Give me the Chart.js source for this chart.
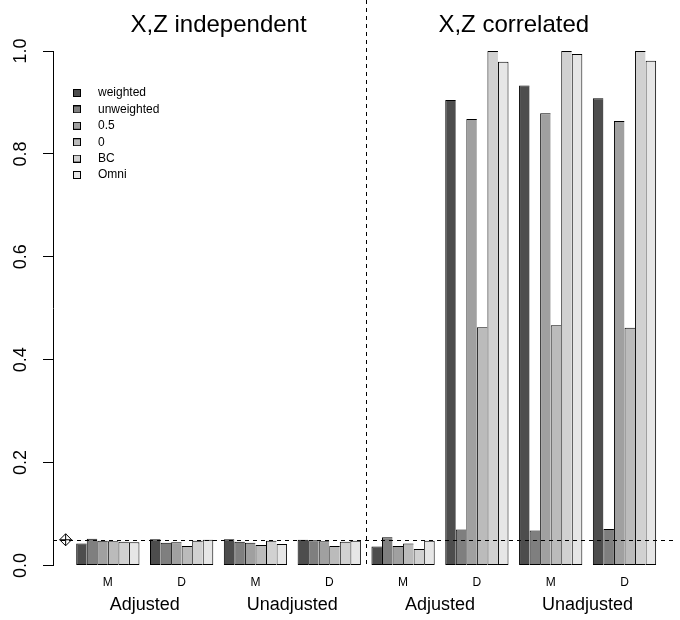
<!DOCTYPE html>
<html>
<head>
<meta charset="utf-8">
<script src="https://cdn.jsdelivr.net/npm/chart.js@4.4.1/dist/chart.umd.min.js"></script>
<style>
  html, body { margin: 0; padding: 0; background: #fff; }
  canvas { display: block; }
</style>
</head>
<body>
<canvas id="chart" width="680" height="620"></canvas>
<script>
// Rejection rates per test, 8 bar groups (M/D x adjusted/unadjusted x two scenarios)
const groupLabels = ['M', 'D', 'M', 'D', 'M', 'D', 'M', 'D'];
const pairLabels = ['Adjusted', 'Unadjusted', 'Adjusted', 'Unadjusted'];
const panelTitles = ['X,Z independent', 'X,Z correlated'];
const seriesNames = ['weighted', 'unweighted', '0.5', '0', 'BC', 'Omni'];
const seriesColors = ['#4d4d4d', '#7f7f7f', '#a0a0a0', '#bbbbbb', '#d1d1d1', '#e6e6e6'];

const weighted   = [0.043, 0.051, 0.051, 0.050, 0.037, 0.905, 0.933, 0.908];
const unweighted = [0.052, 0.044, 0.046, 0.049, 0.055, 0.070, 0.068, 0.071];
const half       = [0.048, 0.045, 0.044, 0.047, 0.038, 0.868, 0.879, 0.864];
const zero       = [0.047, 0.038, 0.040, 0.038, 0.043, 0.463, 0.467, 0.462];
const bc         = [0.046, 0.048, 0.048, 0.046, 0.032, 1.000, 1.000, 1.000];
const omni       = [0.045, 0.050, 0.042, 0.048, 0.048, 0.979, 0.994, 0.981];
const seriesValues = [weighted, unweighted, half, zero, bc, omni];

const yTicks = [0, 0.2, 0.4, 0.6, 0.8, 1.0];
const alpha = 0.05;

// barplot-like unit layout: 6 bars + 1 gap per group
const step = seriesNames.length + 1;
const groupCenters = groupLabels.map((_, i) => 1 + seriesNames.length / 2 + step * i);
const pairCenters = pairLabels.map((_, i) => (groupCenters[2 * i] + groupCenters[2 * i + 1]) / 2);
const half0 = groupLabels.length / 2;
const panelCenters = panelTitles.map((_, i) => (groupCenters[half0 * i] + groupCenters[half0 * i + half0 - 1]) / 2);
const panelSplit = (groupCenters[half0 - 1] + groupCenters[half0]) / 2;
const xMin = -1.2, xMax = 57.6;

function swatch(color) {
    const c = document.createElement('canvas');
    c.width = 8; c.height = 8;
    const g = c.getContext('2d');
    g.fillStyle = color;
    g.fillRect(0, 0, 8, 8);
    g.strokeStyle = '#000';
    g.lineWidth = 1;
    g.strokeRect(0.5, 0.5, 7, 7);
    return c;
}

const datasets = seriesNames.map((name, k) => ({
    label: name,
    data: groupCenters.map((x, i) => ({x: x, y: seriesValues[k][i]})),
    backgroundColor: seriesColors[k],
    borderColor: '#000',
    borderWidth: k === seriesNames.length - 1 ? 1 : {top: 1, left: 1, bottom: 1, right: 0},
    borderSkipped: false,
    inflateAmount: 0,
    categoryPercentage: seriesNames.length / step,
    barPercentage: 1
}));

// nominal level marker (diamond with cross)
['rectRot', 'cross'].forEach((style) => {
    datasets.push({
        type: 'scatter',
        label: '',
        data: [{x: 0, y: alpha}],
        pointStyle: style,
        pointRadius: 6,
        borderColor: '#000',
        borderWidth: 1,
        backgroundColor: 'rgba(0,0,0,0)'
    });
});

const refLines = {
    id: 'refLines',
    afterLayout(chart) {
        const ca = chart.chartArea;
        const lg = chart.legend;
        lg.left = ca.left + 4.6;
        lg.top = ca.top + 31.6;
        lg.right = ca.right;
        lg.bottom = ca.bottom;
    },
    afterDatasetsDraw(chart) {
        const {ctx, chartArea, scales} = chart;
        ctx.save();
        ctx.strokeStyle = '#000';
        ctx.lineWidth = 1;
        ctx.setLineDash([4, 4]);
        const yy = Math.round(scales.y.getPixelForValue(alpha)) + 0.5;
        ctx.beginPath();
        ctx.moveTo(chartArea.left, yy);
        ctx.lineTo(chartArea.right, yy);
        ctx.stroke();
        const xx = Math.round(scales.x.getPixelForValue(panelSplit)) + 0.5;
        ctx.beginPath();
        ctx.moveTo(xx, 0);
        ctx.lineTo(xx, scales.y.getPixelForValue(0));
        ctx.stroke();
        ctx.restore();
    }
};

Chart.defaults.font.family = '"Liberation Sans", Arial, sans-serif';
Chart.defaults.color = '#000';

const hiddenGrid = {display: false, drawTicks: false};
const hiddenBorder = {display: false};

new Chart(document.getElementById('chart'), {
    type: 'bar',
    data: {datasets: datasets},
    plugins: [refLines],
    options: {
        responsive: false,
        animation: false,
        layout: {padding: 0},
        scales: {
            x: {
                type: 'linear', position: 'bottom', min: xMin, max: xMax, offset: false,
                grid: hiddenGrid, border: hiddenBorder,
                afterBuildTicks: (s) => { s.ticks = groupCenters.map((v) => ({value: v})); },
                afterFit: (s) => { s.height = 25; },
                ticks: {
                    autoSkip: false, maxRotation: 0, padding: 10.3, font: {size: 12},
                    callback: (v, i) => groupLabels[i]
                }
            },
            x2: {
                type: 'linear', position: 'bottom', min: xMin, max: xMax, offset: false,
                grid: hiddenGrid, border: hiddenBorder,
                afterBuildTicks: (s) => { s.ticks = pairCenters.map((v) => ({value: v})); },
                afterFit: (s) => { s.height = 29.5; },
                ticks: {
                    autoSkip: false, maxRotation: 0, padding: 3.7, font: {size: 18},
                    callback: (v, i) => pairLabels[i]
                }
            },
            xTop: {
                type: 'linear', position: 'top', min: xMin, max: xMax, offset: false,
                grid: hiddenGrid, border: hiddenBorder,
                afterBuildTicks: (s) => { s.ticks = panelCenters.map((v) => ({value: v})); },
                afterFit: (s) => { s.height = 51; },
                ticks: {
                    autoSkip: false, maxRotation: 0, padding: 11.6, font: {size: 24},
                    callback: (v, i) => panelTitles[i]
                }
            },
            y: {
                type: 'linear', position: 'left', min: 0, max: 1,
                afterBuildTicks: (s) => { s.ticks = yTicks.map((v) => ({value: v})); },
                afterFit: (s) => { s.width = 53; },
                grid: {drawOnChartArea: false, drawTicks: true, tickLength: 10, tickColor: '#000', color: '#000'},
                border: {display: true, color: '#000', width: 1},
                ticks: {
                    minRotation: 90, maxRotation: 90, crossAlign: 'center', padding: 9.5,
                    font: {size: 18},
                    callback: (v) => v.toFixed(1)
                }
            }
        },
        plugins: {
            tooltip: {enabled: false},
            legend: {
                position: 'chartArea',
                align: 'start',
                labels: {
                    usePointStyle: true,
                    pointStyleWidth: 30,
                    padding: 4.4,
                    font: {size: 12},
                    color: '#000',
                    generateLabels: (chart) => seriesNames.map((name, k) => ({
                        text: name,
                        datasetIndex: k,
                        pointStyle: swatch(seriesColors[k]),
                        fillStyle: seriesColors[k],
                        strokeStyle: '#000',
                        lineWidth: 1,
                        hidden: false,
                        fontColor: '#000'
                    }))
                }
            }
        }
    }
});
</script>
</body>
</html>
